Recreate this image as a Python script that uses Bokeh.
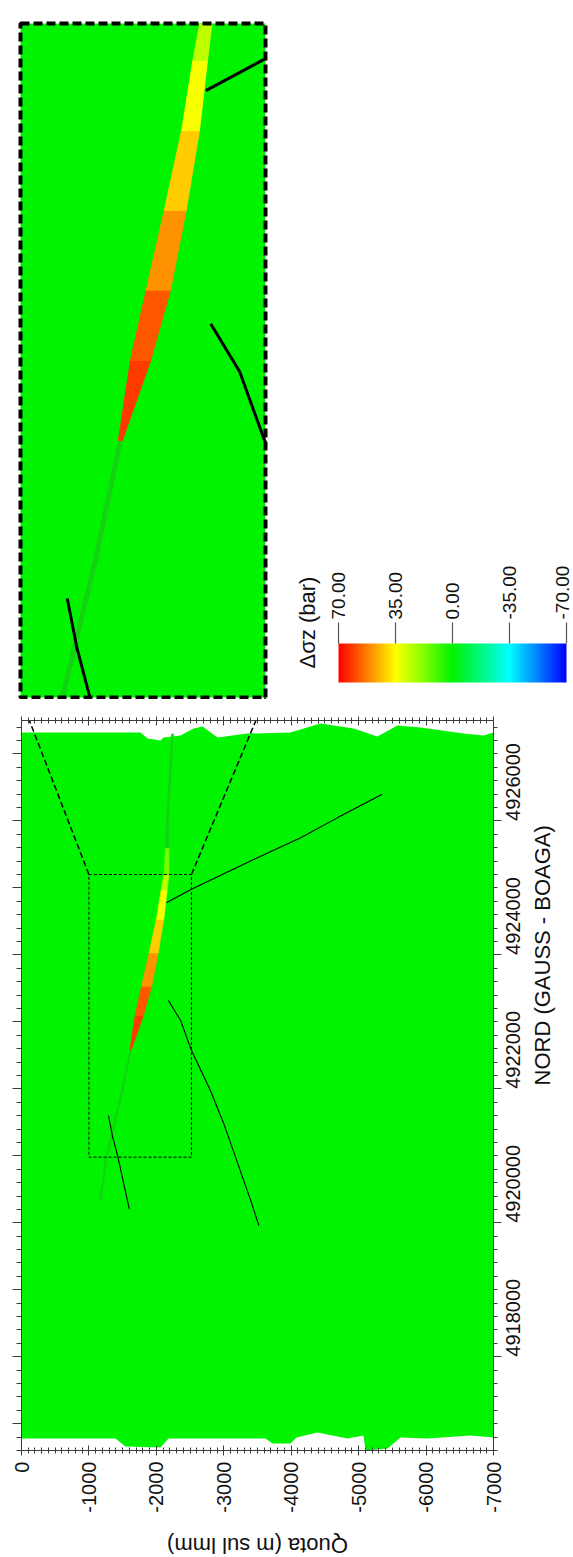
import numpy as np
from bokeh.plotting import figure
from bokeh.models import Range1d, LinearAxis, FixedTicker, PrintfTickFormatter
from bokeh.core.properties import value
from bokeh.embed import file_html
from bokeh.resources import INLINE

FONT = "Liberation Sans"
AXIS_COLOR = "#3c3c3c"
TEXT_COLOR = "#111111"
FAINT = "#14d214"

# ---------------- axes ----------------
QUOTA_LIM = [0, -7000]
NORD_LIM = [4916600, 4927500]
QUOTA_TICKS = [0, -1000, -2000, -3000, -4000, -5000, -6000, -7000]
QUOTA_MINOR = list(range(0, -7001, -100))
NORD_TICKS = [4918000, 4920000, 4922000, 4924000, 4926000]
NORD_TICKS_1K = list(range(4917000, 4927001, 1000))
NORD_MINOR = list(range(4916600, 4927501, 200))
QUOTA_TITLE = "Quota (m sul lmm)"
NORD_TITLE = "NORD (GAUSS - BOAGA)"

# enlarged window (Quota, NORD)
ZOOM_QUOTA = [-1000, -2520]
ZOOM_NORD = [4920980, 4925200]

# colour scale (delta sigma z, bar)
DSZ_TICKS = [70, 35, 0, -35, -70]
DSZ_LABELS = ["70.00", "35.00", "0.00", "-35.00", "-70.00"]
PAL_VALUES = [-70, -52.5, -35, -17.5, 0, 17.5, 35, 52.5, 70]
PAL_RGB = [(0, 0, 255), (0, 128, 255), (0, 255, 255), (0, 248, 128), (0, 244, 0),
           (128, 255, 0), (255, 255, 0), (255, 128, 0), (255, 0, 0)]

# model domain outline
DOMAIN_TOP_QUOTA = [0, -1765, -1869, -2061, -2106, -2358, -2551, -2684, -2907, -3352,
                    -3989, -4434, -4924, -5279, -5576, -5917, -6555, -6851, -7000]
DOMAIN_TOP_NORD = [4927320, 4927320, 4927230, 4927200, 4927245, 4927275, 4927380, 4927410,
                   4927245, 4927305, 4927320, 4927455, 4927380, 4927260, 4927425, 4927395,
                   4927305, 4927275, 4927320]
DOMAIN_BOT_QUOTA = [-7000, -6659, -6021, -5621, -5428, -5102, -5072, -4835, -4390, -4078,
                    -3989, -3722, -3619, -2180, -2061, -1542, -1394, 0]
DOMAIN_BOT_NORD = [4916795, 4916825, 4916780, 4916795, 4916630, 4916600, 4916825, 4916780,
                   4916870, 4916795, 4916705, 4916705, 4916780, 4916780, 4916645, 4916660,
                   4916780, 4916780]

# stress anomaly band along the fault plane (centre, width, value per segment)
STREAK_NORD = [4920330, 4920980, 4921840, 4922590, 4923090, 4923530, 4924030, 4924530,
               4924970, 4925200, 4925600, 4926010, 4927300]
STREAK_QUOTA = [-1170, -1260, -1465, -1620, -1745, -1855, -1960, -2055, -2115, -2150,
                -2160, -2165, -2240]
STREAK_WIDTH = [25, 25, 25, 25, 125, 150, 135, 110, 90, 75, 50, 30, 30]
STREAK_DSZ = [2, 2, 2, 62, 58, 50, 42, 34, 26, 16, 2, 2]

# faults
F1_QUOTA = [-2150, -2520, -3350, -4140, -4690, -5350]
F1_NORD = [4924780, 4924980, 4925380, 4925750, 4926050, 4926400]
F2_QUOTA = [-2180, -2360, -2510, -2800, -3000, -3400, -3520]
F2_NORD = [4923320, 4923020, 4922600, 4921980, 4921480, 4920330, 4919960]
F3_QUOTA = [-1290, -1350, -1424, -1600]
F3_NORD = [4921600, 4921290, 4921006, 4920200]
FAULTS = [(F1_QUOTA, F1_NORD), (F2_QUOTA, F2_NORD), (F3_QUOTA, F3_NORD)]


def ramp(v):
    r = np.interp(v, PAL_VALUES, [c[0] for c in PAL_RGB])
    g = np.interp(v, PAL_VALUES, [c[1] for c in PAL_RGB])
    b = np.interp(v, PAL_VALUES, [c[2] for c in PAL_RGB])
    return "#%02x%02x%02x" % (int(r), int(g), int(b))


GREEN = ramp(0)


def streak_quads():
    out = []
    q = np.array(STREAK_QUOTA, float)
    w = np.array(STREAK_WIDTH, float) / 2
    for i, v in enumerate(STREAK_DSZ):
        xs = [q[i] + w[i], q[i + 1] + w[i + 1], q[i + 1] - w[i + 1], q[i] - w[i]]
        ys = [STREAK_NORD[i], STREAK_NORD[i + 1], STREAK_NORD[i + 1], STREAK_NORD[i]]
        out.append((xs, ys, ramp(v) if v >= 5 else FAINT))
    return out


# ---- clipping helpers for the enlarged view ----
def clip_polygon(xs, ys, box):
    x0, x1, y0, y1 = box
    pts = list(zip(xs, ys))
    edges = [(lambda p: p[0] >= x0, lambda a, b: (x0, a[1] + (b[1] - a[1]) * (x0 - a[0]) / (b[0] - a[0]))),
             (lambda p: p[0] <= x1, lambda a, b: (x1, a[1] + (b[1] - a[1]) * (x1 - a[0]) / (b[0] - a[0]))),
             (lambda p: p[1] >= y0, lambda a, b: (a[0] + (b[0] - a[0]) * (y0 - a[1]) / (b[1] - a[1]), y0)),
             (lambda p: p[1] <= y1, lambda a, b: (a[0] + (b[0] - a[0]) * (y1 - a[1]) / (b[1] - a[1]), y1))]
    for inside, cut in edges:
        if not pts:
            break
        res = []
        prev = pts[-1]
        for cur in pts:
            if inside(cur):
                if not inside(prev):
                    res.append(cut(prev, cur))
                res.append(cur)
            elif inside(prev):
                res.append(cut(prev, cur))
            prev = cur
        pts = res
    return [p[0] for p in pts], [p[1] for p in pts]


def clip_line(xs, ys, box):
    x0, x1, y0, y1 = box
    pieces, cur = [], []
    for i in range(len(xs) - 1):
        ax, ay, bx, by = xs[i], ys[i], xs[i + 1], ys[i + 1]
        dx, dy = bx - ax, by - ay
        t0, t1, ok = 0.0, 1.0, True
        for p, q in ((-dx, ax - x0), (dx, x1 - ax), (-dy, ay - y0), (dy, y1 - ay)):
            if p == 0:
                if q < 0:
                    ok = False
            else:
                t = q / p
                if p < 0:
                    t0 = max(t0, t)
                else:
                    t1 = min(t1, t)
        if not ok or t0 > t1:
            if cur:
                pieces.append(cur)
                cur = []
            continue
        s = (ax + t0 * dx, ay + t0 * dy)
        e = (ax + t1 * dx, ay + t1 * dy)
        if not cur:
            cur = [s]
        cur.append(e)
        if t1 < 1:
            pieces.append(cur)
            cur = []
    if cur:
        pieces.append(cur)
    return pieces


def style_axis(ax, labels):
    ax.axis_line_color = AXIS_COLOR
    ax.major_tick_line_color = AXIS_COLOR
    ax.minor_tick_line_color = AXIS_COLOR
    ax.major_label_text_font = FONT
    ax.formatter = PrintfTickFormatter(format="%d")
    if labels:
        ax.major_label_text_color = TEXT_COLOR
        ax.major_label_text_font_size = "20px"
    else:
        ax.major_label_text_color = None
        ax.major_label_text_font_size = "1px"
        ax.major_label_standoff = 0


def clean(p):
    p.grid.visible = False
    p.background_fill_color = "white"
    p.border_fill_color = "white"
    p.outline_line_color = None


PAGE_W, PAGE_H = 573, 1557
TOP_H = 699
ML, MR, MT, MB = 21, 80, 21, 76
FRAME_W = PAGE_W - ML - MR
FRAME_H = 730
MAIN_H = MT + FRAME_H + MB
CAP_H = PAGE_H - TOP_H - MAIN_H


# page pixel <-> main data
def main_px(q):
    return ML + (q - QUOTA_LIM[0]) / (QUOTA_LIM[1] - QUOTA_LIM[0]) * FRAME_W


def main_py(n):
    return TOP_H + MT + (NORD_LIM[1] - n) / (NORD_LIM[1] - NORD_LIM[0]) * FRAME_H


def main_q(px):
    return QUOTA_LIM[0] + (px - ML) / FRAME_W * (QUOTA_LIM[1] - QUOTA_LIM[0])


def main_n(py):
    return NORD_LIM[1] - (py - TOP_H - MT) / FRAME_H * (NORD_LIM[1] - NORD_LIM[0])


# ---------------- upper panel: enlarged view + colour bar ----------------
IN_L, IN_R, IN_T, IN_B = 20, 265, 23, 697
SX = (ZOOM_QUOTA[1] - ZOOM_QUOTA[0]) / (IN_R - IN_L)
SY = (ZOOM_NORD[1] - ZOOM_NORD[0]) / (IN_B - IN_T)


def top_q(px):
    return ZOOM_QUOTA[0] + (px - IN_L) * SX


def top_n(py):
    return ZOOM_NORD[1] - (py - IN_T) * SY


top = figure(width=PAGE_W, height=TOP_H, x_range=Range1d(top_q(0), top_q(PAGE_W)),
             y_range=Range1d(top_n(TOP_H), top_n(0)), x_axis_location=None, y_axis_location=None,
             toolbar_location=None, output_backend="svg",
             min_border_left=0, min_border_right=0, min_border_top=0, min_border_bottom=0)
clean(top)

BOX = (min(ZOOM_QUOTA), max(ZOOM_QUOTA), ZOOM_NORD[0], ZOOM_NORD[1])
dq, dn = clip_polygon(DOMAIN_TOP_QUOTA + DOMAIN_BOT_QUOTA, DOMAIN_TOP_NORD + DOMAIN_BOT_NORD, BOX)
top.patch(dq, dn, fill_color=GREEN, line_color=None)
for xs, ys, col in streak_quads():
    cx, cy = clip_polygon(xs, ys, BOX)
    if len(cx) > 2:
        top.patch(cx, cy, fill_color=col, line_color=col, line_width=1)
for fq, fn in FAULTS:
    for piece in clip_line(fq, fn, BOX):
        top.line([p[0] for p in piece], [p[1] for p in piece], line_color="black", line_width=3)
top.quad(left=ZOOM_QUOTA[0], right=ZOOM_QUOTA[1], bottom=ZOOM_NORD[0], top=ZOOM_NORD[1],
         fill_color=None, line_color="black", line_width=4, line_dash="9 4")

# connectors (upper part)
for zq, ix in ((ZOOM_QUOTA[0], IN_L), (ZOOM_QUOTA[1], IN_R)):
    tx, ty = main_px(zq), main_py(ZOOM_NORD[1])
    top.segment(x0=top_q(ix), y0=top_n(IN_B), x1=top_q(tx), y1=top_n(ty),
                line_color="black", line_width=1.5, line_dash="6 3")

# colour bar
CB_L, CB_R, CB_T, CB_B = 338, 566, 643, 682
dsz_per_px = (DSZ_TICKS[-1] - DSZ_TICKS[0]) / (CB_R - CB_L)
top.extra_x_ranges = {"dsz": Range1d(DSZ_TICKS[0] - CB_L * dsz_per_px,
                                     DSZ_TICKS[0] + (PAGE_W - CB_L) * dsz_per_px)}
cb_per_px = 1.0 / (CB_B - CB_T)
top.extra_y_ranges = {"cb": Range1d(-(TOP_H - CB_B) * cb_per_px, 1 + CB_T * cb_per_px)}

vals = np.linspace(DSZ_TICKS[-1], DSZ_TICKS[0], 281)
img = np.zeros((1, len(vals)), dtype=np.uint32)
view = img.view(dtype=np.uint8).reshape((1, len(vals), 4))
for j, v in enumerate(vals):
    h = ramp(v)
    view[0, j] = [int(h[1:3], 16), int(h[3:5], 16), int(h[5:7], 16), 255]
top.image_rgba(image=[img], x=DSZ_TICKS[-1], y=0, dw=DSZ_TICKS[0] - DSZ_TICKS[-1], dh=1,
               x_range_name="dsz", y_range_name="cb")
top.segment(x0=DSZ_TICKS, y0=1, x1=DSZ_TICKS, y1=1 + 21 * cb_per_px, line_color="#555555",
            line_width=1.2, x_range_name="dsz", y_range_name="cb")
# keep the last label inside the page edge
label_shift = [0, 0, 0, 0, -4]
top.text(x=DSZ_TICKS, y=[1 + 24 * cb_per_px] * len(DSZ_TICKS), text=DSZ_LABELS, angle=np.pi / 2,
         x_offset=label_shift, text_align="left", text_baseline="middle", text_font=value(FONT),
         text_font_size="19px", text_color=TEXT_COLOR, x_range_name="dsz", y_range_name="cb")
top.text(x=[DSZ_TICKS[0] + (307 - CB_L) * dsz_per_px], y=[(CB_B - 668) * cb_per_px],
         text=["\u0394\u03c3z (bar)"], angle=np.pi / 2, text_align="left", text_baseline="middle",
         text_font=value(FONT), text_font_size="22px", text_color=TEXT_COLOR,
         x_range_name="dsz", y_range_name="cb")

# ---------------- main section ----------------
main = figure(width=PAGE_W, height=MAIN_H, x_range=Range1d(*QUOTA_LIM), y_range=Range1d(*NORD_LIM),
              x_axis_location=None, y_axis_location=None, toolbar_location=None,
              output_backend="svg", min_border_left=ML, min_border_right=MR,
              min_border_top=MT, min_border_bottom=MB)
clean(main)

main.patch(DOMAIN_TOP_QUOTA + DOMAIN_BOT_QUOTA, DOMAIN_TOP_NORD + DOMAIN_BOT_NORD,
           fill_color=GREEN, line_color=None)
for xs, ys, col in streak_quads():
    main.patch(xs, ys, fill_color=col, line_color=col, line_width=0.6)
for fq, fn in FAULTS:
    main.line(fq, fn, line_color="black", line_width=1.1)
main.quad(left=ZOOM_QUOTA[0], right=ZOOM_QUOTA[1], bottom=ZOOM_NORD[0], top=ZOOM_NORD[1],
          fill_color=None, line_color="black", line_width=1, line_dash="3 2")

# connectors (lower part)
for zq, ix in ((ZOOM_QUOTA[0], IN_L), (ZOOM_QUOTA[1], IN_R)):
    main.segment(x0=zq, y0=ZOOM_NORD[1], x1=main_q(ix), y1=main_n(IN_B),
                 line_color="black", line_width=1.5, line_dash="6 3")

HAS_LABEL_ORIENT = "axis_label_orientation" in LinearAxis.properties()

bottom = LinearAxis(ticker=FixedTicker(ticks=QUOTA_TICKS, minor_ticks=QUOTA_MINOR),
                    major_label_orientation=np.pi / 2, major_tick_in=5, major_tick_out=5,
                    minor_tick_in=3, minor_tick_out=3, major_label_standoff=6)
style_axis(bottom, True)
main.add_layout(bottom, "below")

topax = LinearAxis(ticker=FixedTicker(ticks=QUOTA_TICKS, minor_ticks=QUOTA_MINOR),
                   major_tick_in=5, major_tick_out=4, minor_tick_in=3, minor_tick_out=3)
style_axis(topax, False)
main.add_layout(topax, "above")

right = LinearAxis(ticker=FixedTicker(ticks=NORD_TICKS, minor_ticks=NORD_MINOR),
                   major_label_orientation=np.pi / 2, major_tick_in=0, major_tick_out=8,
                   minor_tick_in=0, minor_tick_out=4, major_label_standoff=12,
                   axis_label=NORD_TITLE, axis_label_standoff=12,
                   axis_label_text_font=FONT, axis_label_text_font_size="22px",
                   axis_label_text_font_style="normal", axis_label_text_color=TEXT_COLOR)
style_axis(right, True)
if HAS_LABEL_ORIENT:
    right.axis_label_orientation = np.pi / 2
main.add_layout(right, "right")

left = LinearAxis(ticker=FixedTicker(ticks=NORD_TICKS_1K, minor_ticks=NORD_MINOR),
                  major_tick_in=0, major_tick_out=9, minor_tick_in=0, minor_tick_out=5)
style_axis(left, False)
main.add_layout(left, "left")

# ---------------- caption strip under the section (Quota title) ----------------
cap = figure(width=PAGE_W, height=CAP_H, x_range=Range1d(0, PAGE_W), y_range=Range1d(0, CAP_H),
             x_axis_location=None, y_axis_location=None, toolbar_location=None,
             output_backend="svg", min_border_left=0, min_border_right=0,
             min_border_top=0, min_border_bottom=0)
clean(cap)
cap.text(x=[main_px((QUOTA_LIM[0] + QUOTA_LIM[1]) / 2)], y=[CAP_H - (1545 - TOP_H - MAIN_H)],
         text=[QUOTA_TITLE], angle=np.pi, text_align="center", text_baseline="middle",
         text_font=value(FONT), text_font_size="22px", text_color=TEXT_COLOR)

open("out.html", "w").write(file_html([top, main, cap], INLINE))
